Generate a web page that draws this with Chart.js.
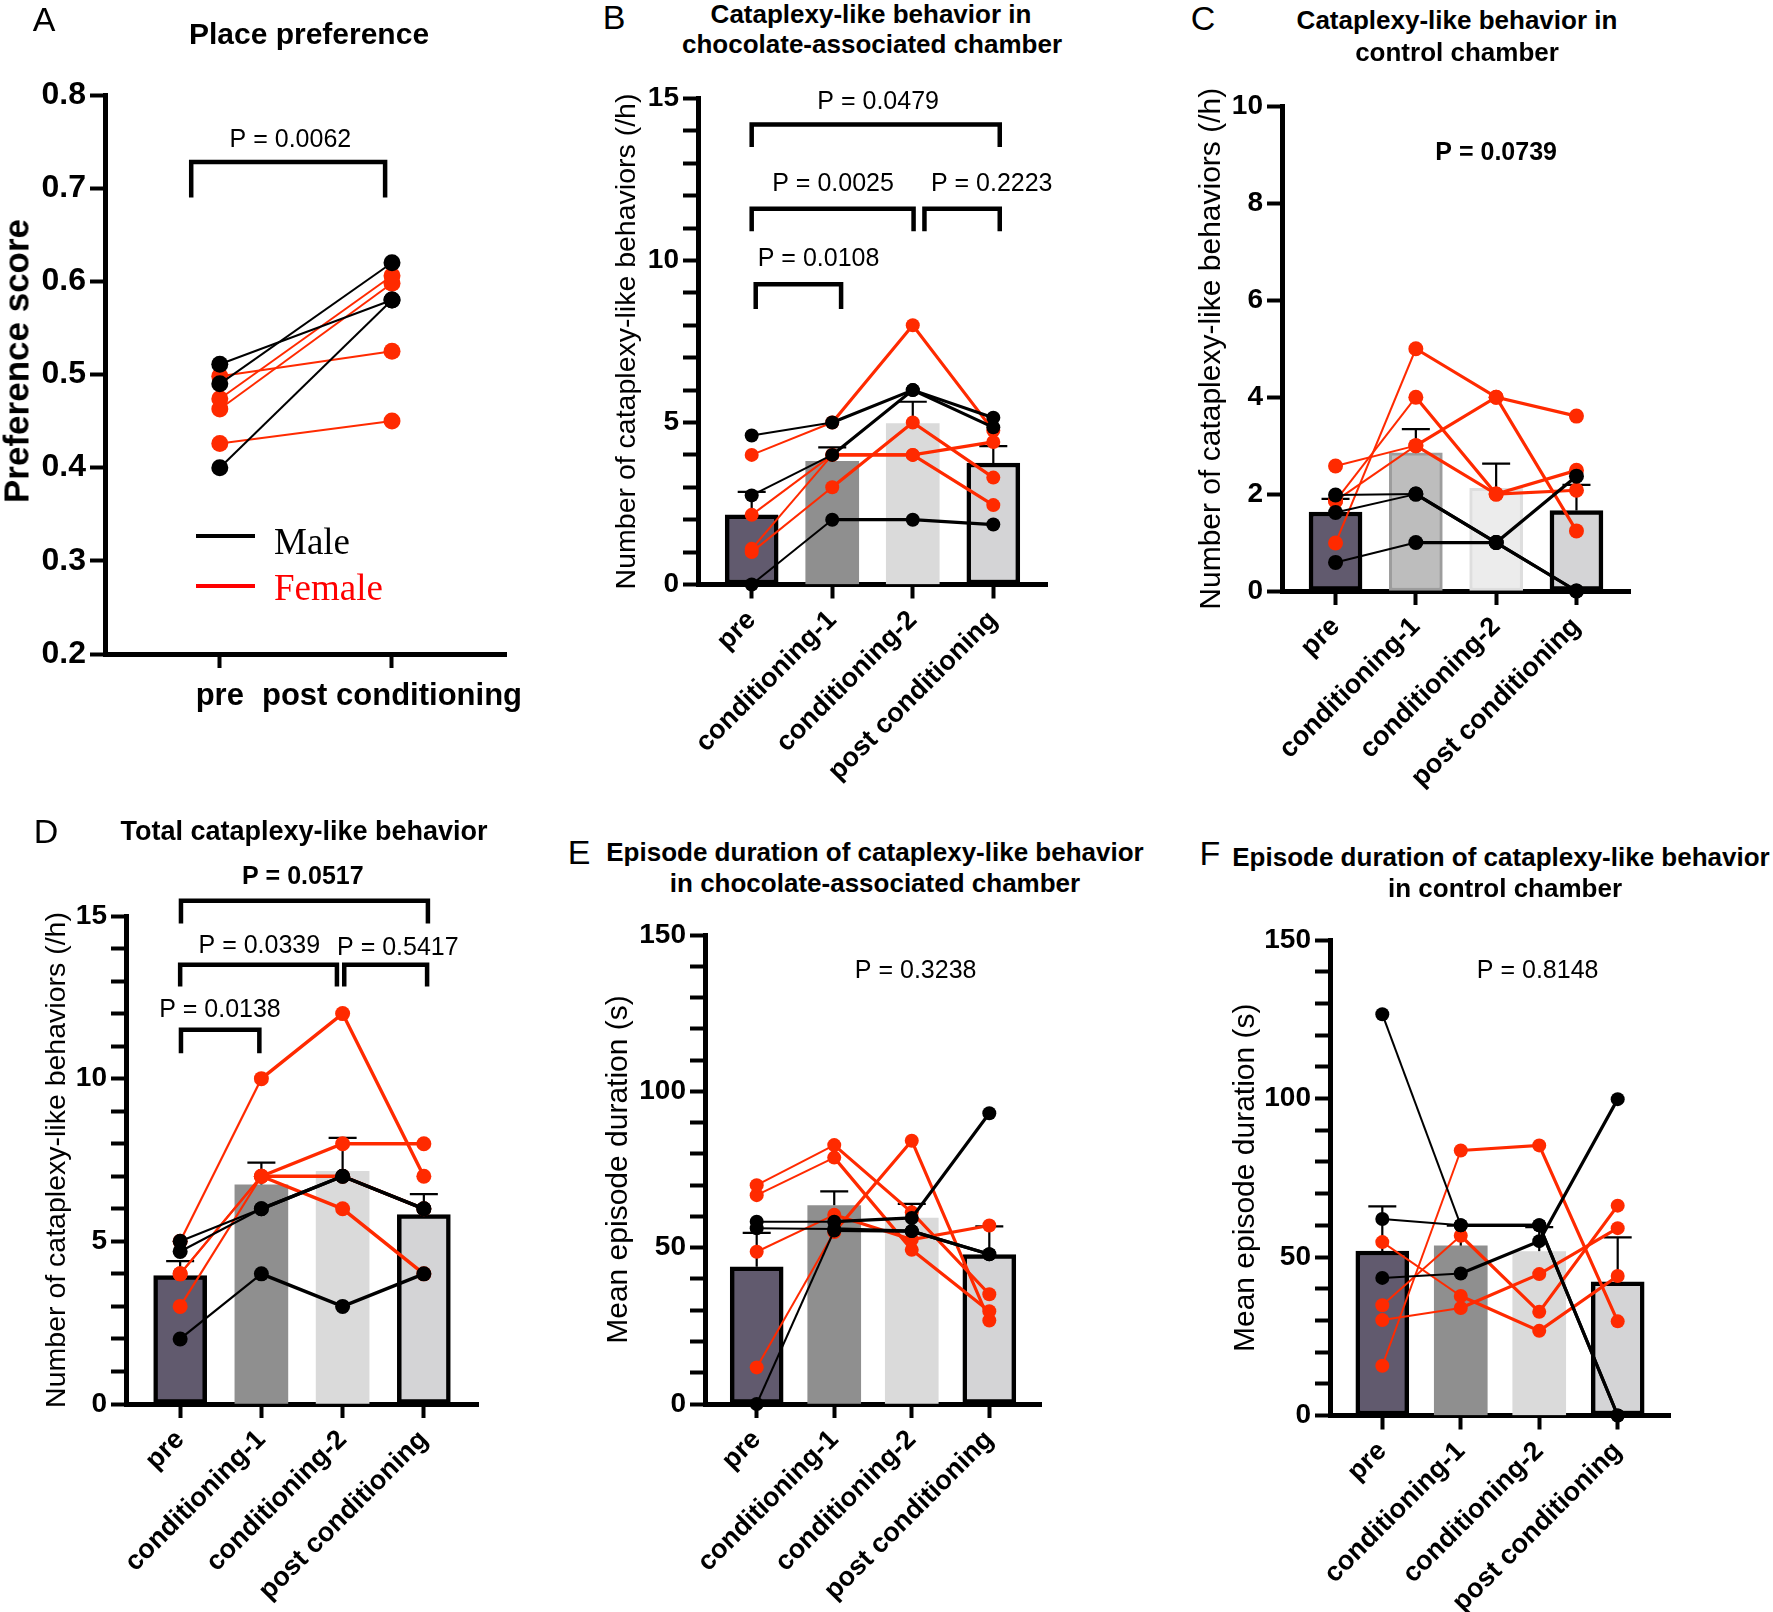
<!DOCTYPE html>
<html>
<head>
<meta charset="utf-8">
<script src="https://cdn.jsdelivr.net/npm/chart.js@4.4.1/dist/chart.umd.min.js"></script>
<style>
  html, body { margin: 0; padding: 0; background: #fff; }
  body { width: 1773px; height: 1612px; position: relative; overflow: hidden; font-family: "Liberation Sans", Arial, sans-serif; }
  canvas { position: absolute; }
  .lbl { position: absolute; transform: translate(-50%, -50%); white-space: nowrap; color: #000; line-height: 1; }
  .letter { font-size: 34px; }
  .ttl { font-size: 26px; font-weight: bold; }
  .leg { position: absolute; font-family: "Liberation Serif", "Times New Roman", serif; font-size: 37px; line-height: 1; transform: translateY(-50%); }
  .legline { position: absolute; height: 3.5px; width: 59px; left: 196px; }
</style>
</head>
<body>
<canvas id="pA"></canvas>
<canvas id="pB"></canvas>
<canvas id="pC"></canvas>
<canvas id="pD"></canvas>
<canvas id="pE"></canvas>
<canvas id="pF"></canvas>

<div class="lbl letter" style="left:44px;top:19px">A</div>
<div class="lbl letter" style="left:614px;top:17px">B</div>
<div class="lbl letter" style="left:1203px;top:18px">C</div>
<div class="lbl letter" style="left:46px;top:831px">D</div>
<div class="lbl letter" style="left:579px;top:852px">E</div>
<div class="lbl letter" style="left:1210px;top:853px">F</div>

<div class="lbl ttl" style="left:309px;top:34px;font-size:30px">Place preference</div>
<div class="lbl ttl" style="left:16px;top:361px;font-size:35px;transform:translate(-50%, -50%) rotate(-90deg)">Preference score</div>
<div class="lbl ttl" style="left:871px;top:14px">Cataplexy-like behavior in</div>
<div class="lbl ttl" style="left:872px;top:44px">chocolate-associated chamber</div>
<div class="lbl ttl" style="left:1457px;top:20px">Cataplexy-like behavior in</div>
<div class="lbl ttl" style="left:1457px;top:52px">control chamber</div>
<div class="lbl ttl" style="left:304px;top:831px;font-size:27px">Total cataplexy-like behavior</div>
<div class="lbl ttl" style="left:875px;top:852px">Episode duration of cataplexy-like behavior</div>
<div class="lbl ttl" style="left:875px;top:883px">in chocolate-associated chamber</div>
<div class="lbl ttl" style="left:1501px;top:857px">Episode duration of cataplexy-like behavior</div>
<div class="lbl ttl" style="left:1505px;top:888px">in control chamber</div>

<div class="legline" style="top:534px;background:#000"></div>
<div class="legline" style="top:584px;background:#ff0000"></div>
<div class="leg" style="left:274px;top:541px;color:#000">Male</div>
<div class="leg" style="left:274px;top:587px;color:#ff0000">Female</div>

<script>
Chart.defaults.font.family = "'Liberation Sans', Arial, sans-serif";
Chart.defaults.color = "#000";

var CATS = ["pre", "conditioning-1", "conditioning-2", "post conditioning"];
var A_CATS = ["pre", "post conditioning"];

// A: place preference score, one row per animal (pre, post)
var A_MALE = [[0.511, 0.580], [0.490, 0.620], [0.400, 0.580]];
var A_FEMALE = [[0.498, 0.525], [0.474, 0.606], [0.463, 0.598], [0.426, 0.450]];

// B: chocolate-associated chamber (/h)
var B_MEAN = [2.15, 3.80, 4.97, 3.75];
var B_SEM = [0.71, 0.43, 0.67, 0.52];
var B_MALE = [[4.6, 5, 6, 5.15], [2.75, 4, 6, 4.85], [0, 2, 2, 1.85]];
var B_FEMALE = [[4.0, 5, 8, 4.75], [2.15, 4, 4, 4.4], [1.1, 4, 4, 2.45], [1.0, 3, 5, 3.3]];

// C: control chamber (/h)
var C_MEAN = [1.63, 2.85, 2.12, 1.66];
var C_SEM = [0.27, 0.49, 0.51, 0.53];
var C_MALE = [[1.98, 2, 1, 0], [1.62, 2, 1, 0], [0.59, 1, 1, 2.37]];
var C_FEMALE = [[2.58, 3, 2, 2.49], [1.86, 3, 4, 3.61], [1.86, 4, 2, 2.08], [0.99, 5, 4, 1.24]];

// D: total (/h)
var D_MEAN = [3.95, 6.74, 7.15, 5.82];
var D_SEM = [0.44, 0.68, 1.03, 0.63];
var D_MALE = [[5, 6, 7, 6], [4.69, 6, 7, 6], [2, 4, 3, 4]];
var D_FEMALE = [[5, 10, 12, 7], [4, 7, 8, 8], [4, 7, 7, 6], [3, 7, 6, 4]];

// E: episode duration, chocolate chamber (s)
var E_MEAN = [43.9, 63.5, 59.5, 47.8];
var E_SEM = [10.8, 4.5, 4.5, 9.0];
var E_MALE = [[58.3, 58.3, 59.5, 93], [56.2, 56, 55.3, 47.9], [0, 55.5, 55.3, 47.9]];
var E_FEMALE = [[70, 82.8, 61.3, 35.1], [66.8, 78.8, 49.3, 29.7], [48.7, 60.5, 52.6, 57.1], [11.7, 55, 84.2, 26.7]];

// F: episode duration, control chamber (s)
var F_MEAN = [51.9, 53.5, 51.7, 42.2];
var F_SEM = [14.1, 6.4, 7.7, 14.0];
var F_MALE = [[126.6, 60, 60, 0], [62, 60, 60, 0], [43.4, 44.8, 55, 99.8]];
var F_FEMALE = [[54.7, 37.7, 26.7, 44], [34.8, 56.7, 32.7, 66.2], [30.1, 33.9, 44.6, 59.1], [15.7, 83.6, 85.2, 29.7]];

// significance brackets (x in category index, y in axis units)
var A_BRACKETS = [{x1: -0.166, x2: 0.96, top: 0.728, leg: 0.690}];
var A_PVALS = [{text: "P = 0.0062", x: 0.41, y: 0.752}];
var B_BRACKETS = [
  {x1: 0, x2: 3.08, top: 14.2, leg: 13.5},
  {x1: 0, x2: 2.01, top: 11.6, leg: 10.9},
  {x1: 2.145, x2: 3.08, top: 11.6, leg: 10.9},
  {x1: 0.05, x2: 1.11, top: 9.27, leg: 8.5}
];
var B_PVALS = [
  {text: "P = 0.0479", x: 1.57, y: 14.9},
  {text: "P = 0.0025", x: 1.01, y: 12.36},
  {text: "P = 0.2223", x: 2.98, y: 12.36},
  {text: "P = 0.0108", x: 0.83, y: 10.04}
];
var C_PVALS = [{text: "P = 0.0739", x: 2.0, y: 9.03, bold: true}];
var D_BRACKETS = [
  {x1: 0.01, x2: 3.05, top: 15.47, leg: 14.77},
  {x1: 0, x2: 1.93, top: 13.5, leg: 12.83},
  {x1: 2.02, x2: 3.04, top: 13.5, leg: 12.83},
  {x1: 0.01, x2: 0.975, top: 11.5, leg: 10.78}
];
var D_PVALS = [
  {text: "P = 0.0517", x: 1.51, y: 16.2, bold: true},
  {text: "P = 0.0339", x: 0.975, y: 14.06},
  {text: "P = 0.5417", x: 2.68, y: 14.0},
  {text: "P = 0.0138", x: 0.49, y: 12.1}
];
var E_PVALS = [{text: "P = 0.3238", x: 2.05, y: 138.5}];
var F_PVALS = [{text: "P = 0.8148", x: 1.98, y: 140.3}];

var RED = "#ff2a00";
var BAR_FILL = ["#615a6e", "#8f8f8f", "#dadada", "#d4d4d6"];
var BAR_EDGE = ["#000", "#8f8f8f", "#dadada", "#000"];
var C_BAR_FILL = ["#615a6e", "#bdbdbd", "#ececec", "#d4d4d6"];
var C_BAR_EDGE = ["#000", "#9d9d9d", "#dedede", "#000"];
var BAR_EDGE_W = [4.5, 0, 0, 4.5];
var C_BAR_EDGE_W = [4.5, 3, 3, 4.5];

function subjectSets(rows, color, radius, thin, thick) {
  return rows.map(function (r) {
    return {
      type: "line",
      data: r.map(function (v, i) { return {x: i, y: v}; }),
      borderColor: color,
      backgroundColor: color,
      borderWidth: thin,
      segment: {
        borderWidth: function (c) { return c.p0DataIndex === 0 ? thin : thick; }
      },
      pointRadius: radius,
      pointBorderWidth: 0,
      pointBackgroundColor: color,
      clip: false,
      order: 1
    };
  });
}

var deco = {
  id: "deco",
  beforeDatasetsDraw: function (chart, args, o) {
    if (!o.sem) return;
    var ctx = chart.ctx, x = chart.scales.x, y = chart.scales.y;
    ctx.save();
    ctx.strokeStyle = "#000";
    ctx.lineWidth = 2.2;
    o.mean.forEach(function (m, i) {
      var px = x.getPixelForValue(i);
      var y0 = y.getPixelForValue(m);
      var y1 = y.getPixelForValue(m + o.sem[i]);
      ctx.beginPath();
      ctx.moveTo(px, y0); ctx.lineTo(px, y1);
      ctx.moveTo(px - 14, y1); ctx.lineTo(px + 14, y1);
      ctx.stroke();
    });
    ctx.restore();
  },
  afterDraw: function (chart, args, o) {
    var ctx = chart.ctx, x = chart.scales.x, y = chart.scales.y;
    ctx.save();
    ctx.strokeStyle = "#000";
    ctx.fillStyle = "#000";
    ctx.lineWidth = 4.5;
    ctx.lineJoin = "miter";
    (o.brackets || []).forEach(function (b) {
      var x1 = x.getPixelForValue(b.x1), x2 = x.getPixelForValue(b.x2);
      var yt = y.getPixelForValue(b.top), yl = y.getPixelForValue(b.leg);
      ctx.beginPath();
      ctx.moveTo(x1, yl); ctx.lineTo(x1, yt); ctx.lineTo(x2, yt); ctx.lineTo(x2, yl);
      ctx.stroke();
    });
    ctx.textAlign = "center";
    ctx.textBaseline = "middle";
    (o.pvals || []).forEach(function (p) {
      ctx.font = (p.bold ? "bold " : "") + "25px 'Liberation Sans', Arial, sans-serif";
      ctx.fillText(p.text, x.getPixelForValue(p.x), y.getPixelForValue(p.y));
    });
    ctx.restore();
  }
};

function panel(id, box, cfg) {
  var cv = document.getElementById(id);
  cv.width = box.w;
  cv.height = box.h;
  cv.style.left = box.left + "px";
  cv.style.top = box.top + "px";
  var yw = box.axisX - box.left;
  var xh = box.top + box.h - box.axisY;
  var cats = cfg.cats;

  var datasets = [];
  if (cfg.mean) {
    datasets.push({
      type: "bar",
      data: cfg.mean.map(function (v, i) { return {x: i, y: v}; }),
      backgroundColor: cfg.fill,
      borderColor: cfg.edge,
      borderWidth: cfg.edgeW,
      borderSkipped: false,
      barThickness: 53,
      order: 5
    });
  }
  datasets = datasets.concat(
    subjectSets(cfg.male, "#000", cfg.r, cfg.thin, cfg.thick),
    subjectSets(cfg.female, RED, cfg.r, cfg.thin, cfg.thick)
  );

  new Chart(cv, {
    type: "bar",
    data: {datasets: datasets},
    options: {
      responsive: false,
      animation: false,
      layout: {padding: {left: 0, top: box.areaTop - box.top, right: box.left + box.w - box.areaRight, bottom: 0}},
      scales: {
        x: {
          type: "linear",
          offset: false,
          min: -2 / 3,
          max: cats.length - 1 + 2 / 3,
          afterFit: function (s) { s.height = xh; },
          afterBuildTicks: function (s) { s.ticks = cats.map(function (c, i) { return {value: i}; }); },
          ticks: {
            autoSkip: false,
            minRotation: cfg.rot,
            maxRotation: cfg.rot,
            padding: cfg.xPad,
            color: "#000",
            font: {size: cfg.xFont, weight: "bold"},
            callback: function (v) { return cats[v]; }
          },
          grid: {offset: false, drawOnChartArea: false, tickLength: 14, tickWidth: 4, tickColor: "#000"},
          border: {display: true, color: "#000", width: 5}
        },
        y: {
          min: cfg.yMin,
          max: cfg.yMax,
          afterFit: function (s) { s.width = yw; },
          ticks: {
            stepSize: cfg.step,
            autoSkip: false,
            padding: 4,
            color: "#000",
            font: {size: cfg.yFont, weight: "bold"},
            callback: cfg.yLabel
          },
          grid: {drawOnChartArea: false, tickLength: 15, tickWidth: 4, tickColor: "#000"},
          border: {display: true, color: "#000", width: 5},
          title: {
            display: !!cfg.yTitle,
            text: cfg.yTitle,
            color: "#000",
            padding: 0,
            font: {size: cfg.yTitleSize, lineHeight: 1.2}
          }
        }
      },
      plugins: {
        legend: {display: false},
        tooltip: {enabled: false},
        deco: {mean: cfg.mean, sem: cfg.sem, brackets: cfg.brackets, pvals: cfg.pvals}
      }
    },
    plugins: [deco]
  });
}

function every(n) { return function (v) { return v % n === 0 ? v : ""; }; }

panel("pA", {left: -6, top: 0, w: 546, h: 740, axisX: 105, areaTop: 95, axisY: 654, areaRight: 512}, {
  cats: A_CATS, male: A_MALE, female: A_FEMALE, r: 8.5, thin: 2, thick: 2,
  rot: 0, xPad: 10, xFont: 31, yFont: 32, yMin: 0.2, yMax: 0.8, step: 0.1,
  yLabel: function (v) { return v.toFixed(1); },
  brackets: A_BRACKETS, pvals: A_PVALS
});

panel("pB", {left: 610, top: 60, w: 460, h: 740, axisX: 698, areaTop: 98.5, axisY: 584.5, areaRight: 1047}, {
  cats: CATS, mean: B_MEAN, sem: B_SEM, fill: BAR_FILL, edge: BAR_EDGE, edgeW: BAR_EDGE_W,
  male: B_MALE, female: B_FEMALE, r: 7, thin: 2, thick: 3.2,
  rot: 45, xPad: 6, xFont: 27, yFont: 28, yMin: 0, yMax: 15, step: 1, yLabel: every(5),
  yTitle: "Number of cataplexy-like behaviors (/h)", yTitleSize: 28.5,
  brackets: B_BRACKETS, pvals: B_PVALS
});

panel("pC", {left: 1194, top: 60, w: 460, h: 740, axisX: 1282, areaTop: 106.5, axisY: 591, areaRight: 1630}, {
  cats: CATS, mean: C_MEAN, sem: C_SEM, fill: C_BAR_FILL, edge: C_BAR_EDGE, edgeW: C_BAR_EDGE_W,
  male: C_MALE, female: C_FEMALE, r: 7.5, thin: 2, thick: 3.2,
  rot: 45, xPad: 6, xFont: 27, yFont: 28, yMin: 0, yMax: 10, step: 2, yLabel: every(2),
  yTitle: "Number of cataplexy-like behaviors (/h)", yTitleSize: 30,
  pvals: C_PVALS
});

panel("pD", {left: 40, top: 840, w: 460, h: 772, axisX: 126, areaTop: 916, axisY: 1404, areaRight: 478}, {
  cats: CATS, mean: D_MEAN, sem: D_SEM, fill: BAR_FILL, edge: BAR_EDGE, edgeW: BAR_EDGE_W,
  male: D_MALE, female: D_FEMALE, r: 7.5, thin: 2.2, thick: 3.4,
  rot: 45, xPad: 6, xFont: 27, yFont: 28, yMin: 0, yMax: 15, step: 1, yLabel: every(5),
  yTitle: "Number of cataplexy-like behaviors (/h)", yTitleSize: 28.5,
  brackets: D_BRACKETS, pvals: D_PVALS
});

panel("pE", {left: 601, top: 900, w: 465, h: 712, axisX: 705, areaTop: 935, axisY: 1404, areaRight: 1041}, {
  cats: CATS, mean: E_MEAN, sem: E_SEM, fill: BAR_FILL, edge: BAR_EDGE, edgeW: BAR_EDGE_W,
  male: E_MALE, female: E_FEMALE, r: 7, thin: 2, thick: 3.2,
  rot: 45, xPad: 6, xFont: 27, yFont: 28, yMin: 0, yMax: 150, step: 10, yLabel: every(50),
  yTitle: "Mean episode duration (s)", yTitleSize: 30,
  pvals: E_PVALS
});

panel("pF", {left: 1228, top: 900, w: 470, h: 712, axisX: 1330, areaTop: 940, axisY: 1415.5, areaRight: 1670}, {
  cats: CATS, mean: F_MEAN, sem: F_SEM, fill: BAR_FILL, edge: BAR_EDGE, edgeW: BAR_EDGE_W,
  male: F_MALE, female: F_FEMALE, r: 7, thin: 2, thick: 3.2,
  rot: 45, xPad: 6, xFont: 27, yFont: 28, yMin: 0, yMax: 150, step: 10, yLabel: every(50),
  yTitle: "Mean episode duration (s)", yTitleSize: 30,
  pvals: F_PVALS
});
</script>
</body>
</html>
